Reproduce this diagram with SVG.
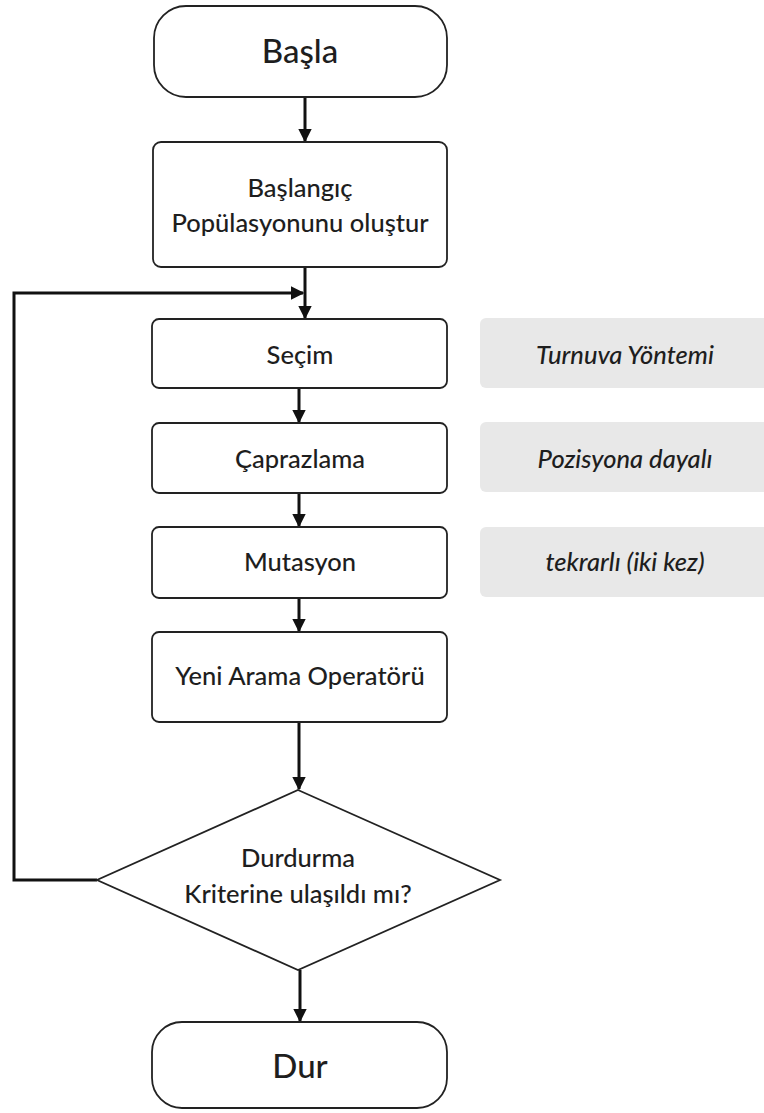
<svg xmlns="http://www.w3.org/2000/svg" width="764" height="1113" viewBox="0 0 764 1113">
<style>
.box{fill:#fff;stroke:#222;stroke-width:1.8}
.note{fill:#e8e8e8;stroke:none}
.t{font-family:"Lato","Open Sans","Liberation Sans",sans-serif;font-size:25.5px;font-weight:500;fill:#1e1e1e;text-anchor:middle}
.big{font-size:33px}
.it{font-style:italic}
.c{fill:none;stroke:#111;stroke-width:3}
</style>
<defs>
<marker id="ah" viewBox="0 0 10 10" refX="9" refY="5" markerWidth="4.5" markerHeight="4.5" orient="auto" markerUnits="strokeWidth">
<path d="M0,0 L10,5 L0,10 z" fill="#111"/>
</marker>
</defs>
<rect width="764" height="1113" fill="#fff"/>
<g id="connectors">
<line class="c" x1="305" y1="97" x2="305" y2="141" marker-end="url(#ah)"/>
<line class="c" x1="305" y1="267" x2="305" y2="318" marker-end="url(#ah)"/>
<polyline class="c" points="97,880 14,880 14,293 303,293" marker-end="url(#ah)"/>
<line class="c" x1="299" y1="388" x2="299" y2="422" marker-end="url(#ah)"/>
<line class="c" x1="299" y1="493" x2="299" y2="526" marker-end="url(#ah)"/>
<line class="c" x1="299" y1="598" x2="299" y2="631" marker-end="url(#ah)"/>
<line class="c" x1="299" y1="722" x2="299" y2="789" marker-end="url(#ah)"/>
<line class="c" x1="300" y1="970" x2="300" y2="1021" marker-end="url(#ah)"/>
</g>
<g id="basla">
<rect class="box" x="154" y="6" width="293" height="91" rx="32"/>
<text class="t big" x="300" y="63">Başla</text>
</g>
<g id="baslangic">
<rect class="box" x="153" y="142" width="294" height="125" rx="8"/>
<text class="t" x="300" y="197">Başlangıç</text>
<text class="t" x="300" y="232">Popülasyonunu oluştur</text>
</g>
<g id="secim">
<rect class="box" x="152" y="319" width="295" height="69" rx="7"/>
<text class="t" x="300" y="364">Seçim</text>
</g>
<g id="caprazlama">
<rect class="box" x="152" y="423" width="295" height="70" rx="7"/>
<text class="t" x="300" y="468">Çaprazlama</text>
</g>
<g id="mutasyon">
<rect class="box" x="152" y="527" width="295" height="71" rx="7"/>
<text class="t" x="300" y="571">Mutasyon</text>
</g>
<g id="yeni">
<rect class="box" x="152" y="632" width="295" height="90" rx="7"/>
<text class="t" x="300" y="685">Yeni Arama Operatörü</text>
</g>
<g id="karar">
<polygon class="box" points="298,790 500,880 298,970 97,880"/>
<text class="t" x="298" y="867">Durdurma</text>
<text class="t" x="298" y="903">Kriterine ulaşıldı mı?</text>
</g>
<g id="dur">
<rect class="box" x="152" y="1022" width="295" height="86" rx="30"/>
<text class="t big" x="300" y="1078">Dur</text>
</g>
<g id="turnuva">
<rect class="note" x="480" y="318" width="300" height="70" rx="6"/>
<text class="t it" x="625" y="364">Turnuva Yöntemi</text>
</g>
<g id="pozisyon">
<rect class="note" x="480" y="422" width="300" height="70" rx="6"/>
<text class="t it" x="625" y="468">Pozisyona dayalı</text>
</g>
<g id="tekrarli">
<rect class="note" x="480" y="527" width="300" height="70" rx="6"/>
<text class="t it" x="625" y="571">tekrarlı (iki kez)</text>
</g>
</svg>
